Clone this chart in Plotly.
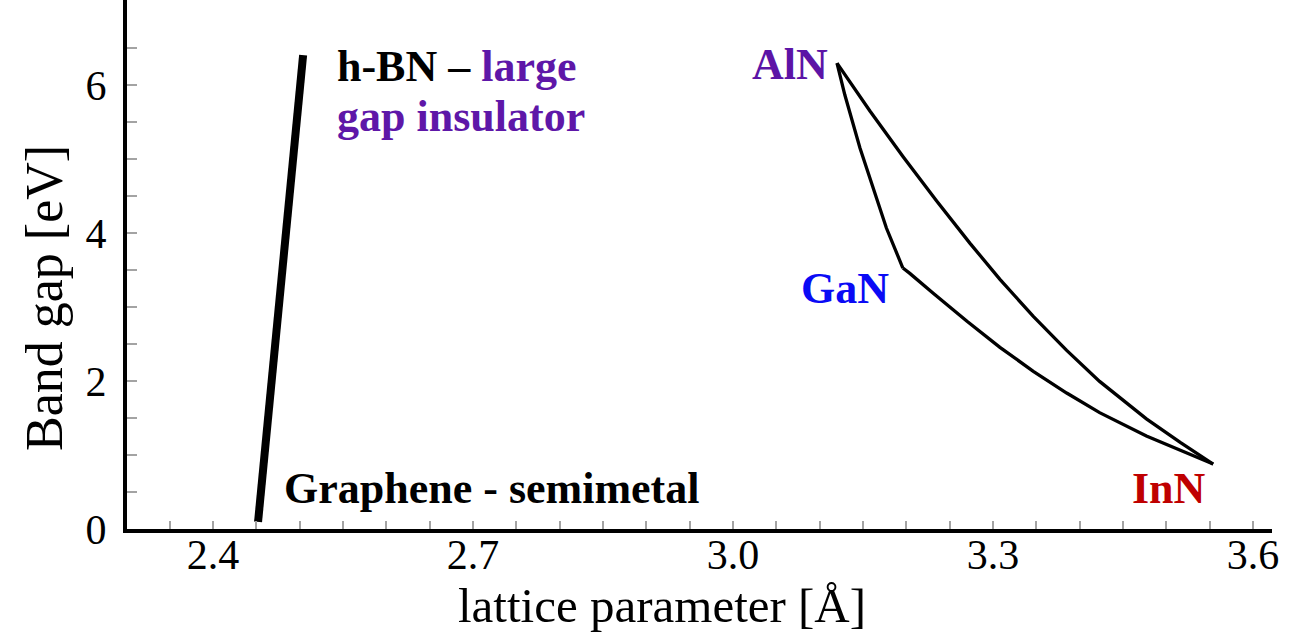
import plotly.graph_objects as go

# ---- data ----
# graphene -> h-BN line
bn_x = [2.452, 2.504]
bn_y = [0.095, 6.405]

# AlN -> GaN segment
algan_x = [3.120, 3.129, 3.1465, 3.162, 3.177, 3.196]
algan_y = [6.297, 5.869, 5.149, 4.608, 4.068, 3.527]

# GaN -> InN curve
ingan_x = [3.196, 3.204, 3.231, 3.270, 3.308, 3.3465, 3.385, 3.423, 3.477, 3.516, 3.554]
ingan_y = [3.527, 3.455, 3.185, 2.807, 2.455, 2.131, 1.838, 1.573, 1.257, 1.068, 0.878]

# AlN -> InN curve
alin_x = [3.120, 3.158, 3.1965, 3.235, 3.2735, 3.308, 3.3465, 3.385, 3.423, 3.477, 3.516, 3.554]
alin_y = [6.297, 5.650, 5.028, 4.432, 3.861, 3.374, 2.874, 2.414, 1.995, 1.489, 1.170, 0.878]

x_tickvals = [2.4, 2.7, 3.0, 3.3, 3.6]
x_ticktext = ["2.4", "2.7", "3.0", "3.3", "3.6"]
x_minorvals = [2.35, 2.45, 2.5, 2.55, 2.6, 2.65, 2.75, 2.8, 2.85, 2.9, 2.95, 3.05, 3.1,
               3.15, 3.2, 3.25, 3.35, 3.4, 3.45, 3.5, 3.55]
y_tickvals = [0, 2, 4, 6]
y_ticktext = ["0", "2", "4", "6"]
y_minorvals = [0.5, 1, 1.5, 2.5, 3, 3.5, 4.5, 5, 5.5, 6.5]

x_title = "lattice parameter [Å]"
y_title = "Band gap [eV]"

# labels: text, x, y, anchor, colour
labels = [
    ("AlN", 3.112, 6.28, "right", "#5c14a6"),
    ("GaN", 3.129, 3.257, "center", "#0a0af5"),
    ("InN", 3.503, 0.554, "center", "#bf0000"),
    ("Graphene - semimetal", 2.4796, 0.554, "left", "#000000"),
    ("h-BN – <span style='color:#5e17a8'>large</span>", 2.5408, 6.257, "left", "#000000"),
    ("gap insulator", 2.5408, 5.581, "left", "#5e17a8"),
]

SERIF = "Liberation Serif, Times New Roman, serif"

fig = go.Figure()
fig.add_trace(go.Scatter(x=bn_x, y=bn_y, mode="lines",
                         line=dict(color="black", width=8), hoverinfo="skip"))
for xs, ys in [(algan_x, algan_y), (ingan_x, ingan_y), (alin_x, alin_y)]:
    fig.add_trace(go.Scatter(x=xs, y=ys, mode="lines",
                             line=dict(color="black", width=3.3),
                             hoverinfo="skip"))

for text, x, y, anchor, col in labels:
    fig.add_annotation(x=x, y=y, xref="x", yref="y", text="<b>" + text + "</b>",
                       showarrow=False, xanchor=anchor, yanchor="middle",
                       font=dict(family=SERIF, size=44, color=col))

# axis titles placed as in the reference
fig.add_annotation(x=0.4672, y=-0.1437, xref="paper", yref="paper", text=x_title,
                   showarrow=False, xanchor="center", yanchor="middle",
                   font=dict(family=SERIF, size=49, color="black"))
fig.add_annotation(x=-0.0716, y=0.4367, xref="paper", yref="paper", text=y_title,
                   showarrow=False, xanchor="center", yanchor="middle", textangle=-90,
                   font=dict(family=SERIF, size=52, color="black"))

tick_gray = "#a3a3a3"
fig.update_layout(
    width=1307, height=644,
    margin=dict(l=127, r=35, t=0, b=115),
    paper_bgcolor="white", plot_bgcolor="white",
    showlegend=False,
    font=dict(family=SERIF, color="black"),
    xaxis=dict(range=[2.3008, 3.6219], showgrid=False, zeroline=False,
               showline=True, linecolor="black", linewidth=4,
               tickmode="array", tickvals=x_tickvals, ticktext=x_ticktext,
               ticks="inside", ticklen=8, tickwidth=2, tickcolor=tick_gray,
               tickfont=dict(family=SERIF, size=42, color="black"),
               ticklabelstandoff=-14,
               minor=dict(tickmode="array", tickvals=x_minorvals, ticks="inside", ticklen=8,
                          tickwidth=2, tickcolor=tick_gray)),
    yaxis=dict(range=[0, 7.15], showgrid=False, zeroline=False,
               showline=True, linecolor="black", linewidth=4,
               tickmode="array", tickvals=y_tickvals, ticktext=y_ticktext,
               ticks="inside", ticklen=10, tickwidth=2, tickcolor=tick_gray,
               tickfont=dict(family=SERIF, size=42, color="black"),
               ticklabelstandoff=8,
               minor=dict(tickmode="array", tickvals=y_minorvals, ticks="inside", ticklen=10,
                          tickwidth=2, tickcolor=tick_gray)),
)

fig.write_html("out.html")
